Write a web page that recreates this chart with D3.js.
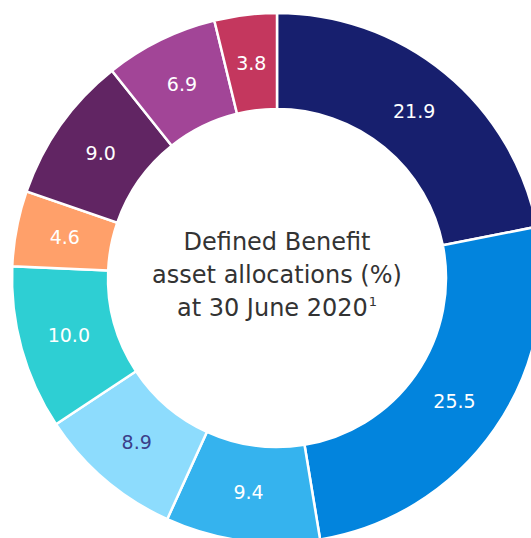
<!DOCTYPE html>
<html>
<head>
<meta charset="utf-8">
<script src="https://cdn.jsdelivr.net/npm/d3@7"></script>
<style>
  body { margin: 0; background: #fff; }
</style>
</head>
<body>
<div id="donut"></div>
<script>
// slices, clockwise from 12 o'clock
const values = [21.9, 25.5, 9.4, 8.9, 10.0, 4.6, 9.0, 6.9, 3.8];
const sliceColors = ["#171f6e", "#0284dd", "#35b3ee", "#8ddcfd", "#2ecfd3", "#ffa06a", "#612563", "#a24597", "#c4375e"];
const labelColors = ["#fff", "#fff", "#fff", "#3b3f8a", "#fff", "#fff", "#fff", "#fff", "#fff"];
const centreLines = ["Defined Benefit", "asset allocations (%)", "at 30 June 2020"];

const width = 531, height = 538;
const cx = 277, cy = 278;
const outerR = 265, innerR = 169;

const svg = d3.select("#donut")
    .append("svg")
    .attr("width", width)
    .attr("height", height)
    .append("g")
    .attr("transform", `translate(${cx},${cy})`);

const pie = d3.pie().sort(null).value(d => d);
const arc = d3.arc().innerRadius(innerR).outerRadius(outerR);
const labelArc = d3.arc().innerRadius(216).outerRadius(216);

const arcs = pie(values);

svg.selectAll(".slice")
    .data(arcs)
    .enter().append("path")
    .attr("class", "slice")
    .attr("d", arc)
    .attr("fill", (d, i) => sliceColors[i])
    .attr("stroke", "#fff")
    .attr("stroke-width", 2.5);

svg.selectAll(".label")
    .data(arcs)
    .enter().append("text")
    .attr("class", "label")
    .attr("transform", d => `translate(${labelArc.centroid(d)})`)
    .attr("text-anchor", "middle")
    .attr("dy", "0.36em")
    .style("font-family", "'DejaVu Sans', sans-serif")
    .style("font-size", "19px")
    .attr("fill", (d, i) => labelColors[i])
    .text(d => d.data.toFixed(1));

// centre caption
const caption = svg.append("text")
    .attr("text-anchor", "middle")
    .style("font-family", "'DejaVu Sans', sans-serif")
    .style("font-size", "24px")
    .attr("fill", "#333");

centreLines.forEach((line, i) => {
    caption.append("tspan")
        .attr("x", 0)
        .attr("y", -28 + i * 33)
        .text(line);
    if (i === centreLines.length - 1) {
        caption.append("tspan")
            .attr("dx", "1")
            .attr("dy", "-0.75em")
            .style("font-size", "13px")
            .text("1");
    }
});
</script>
</body>
</html>
